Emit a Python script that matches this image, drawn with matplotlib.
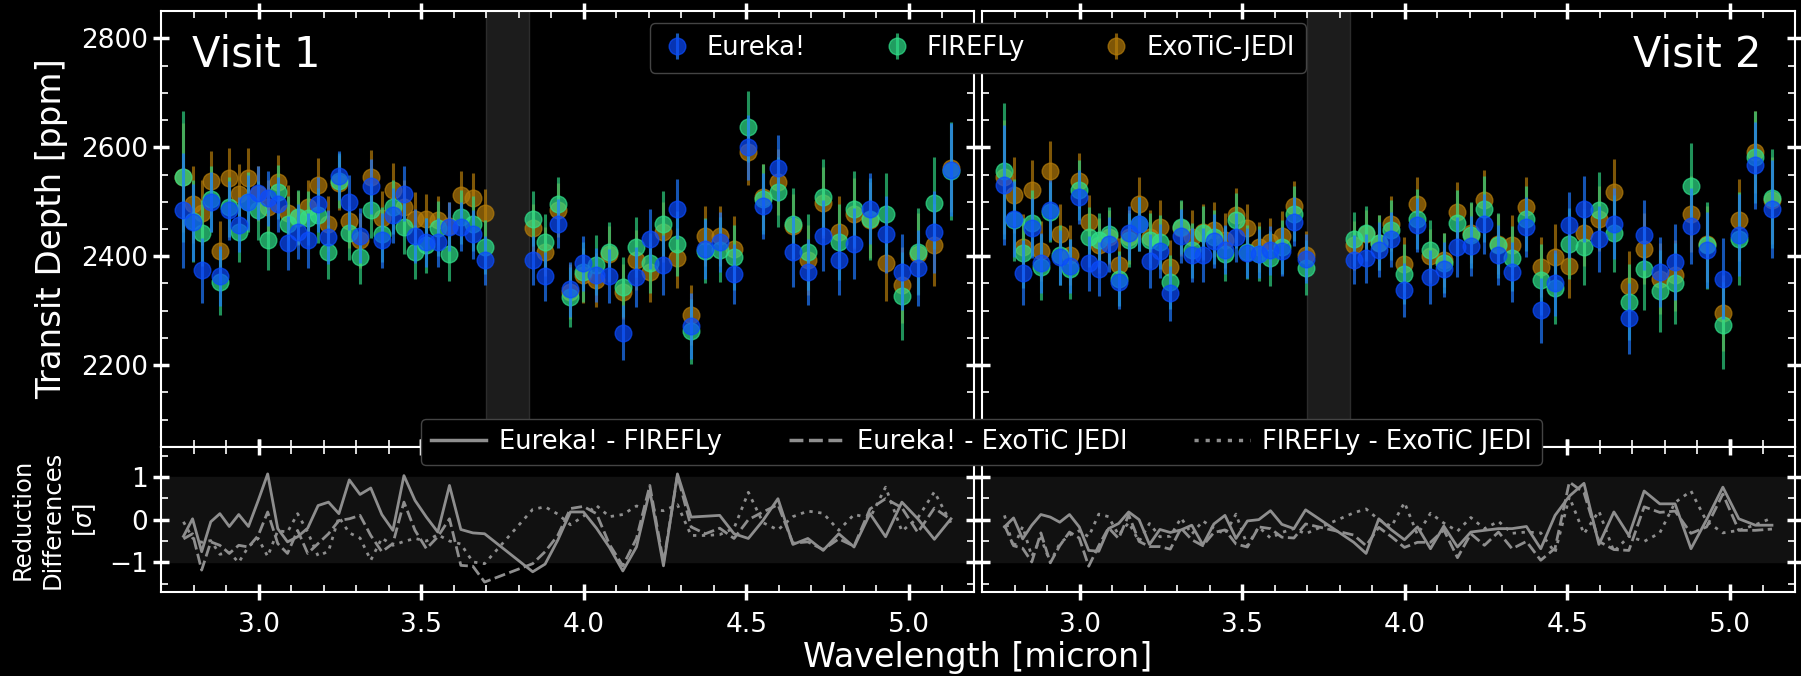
import numpy as np
import matplotlib.pyplot as plt
from matplotlib.ticker import MultipleLocator
from matplotlib.lines import Line2D

# wavelength bin centres (NRS1 then NRS2), micron
wl_nrs1 = [2.769, 2.797, 2.825, 2.853, 2.881, 2.910, 2.939, 2.969, 2.999, 3.028,
           3.059, 3.089, 3.120, 3.151, 3.183, 3.215, 3.247, 3.279, 3.312, 3.345,
           3.379, 3.413, 3.447, 3.481, 3.516, 3.551, 3.587, 3.622, 3.659, 3.695]
wl_nrs2 = [3.843, 3.881, 3.920, 3.959, 3.999, 4.039, 4.079, 4.120, 4.162, 4.203,
           4.245, 4.288, 4.330, 4.374, 4.418, 4.462, 4.506, 4.551, 4.597, 4.643,
           4.689, 4.736, 4.784, 4.831, 4.880, 4.928, 4.978, 5.027, 5.078, 5.129]
wavelength = np.array(wl_nrs1 + wl_nrs2)

# transit depths [ppm]
eureka_v1 = [2484, 2462, 2374, 2499, 2364, 2484, 2458, 2499, 2516, 2506, 2495, 2424, 2445, 2429, 2495,
             2435, 2548, 2499, 2438, 2528, 2429, 2475, 2515, 2437, 2426, 2426, 2454, 2454, 2440, 2393,
             2393, 2363, 2460, 2339, 2387, 2366, 2364, 2260, 2362, 2432, 2384, 2487, 2272, 2414, 2426,
             2368, 2600, 2492, 2562, 2408, 2371, 2438, 2394, 2423, 2487, 2440, 2371, 2379, 2445, 2559]
firefly_v1 = [2546, 2465, 2443, 2505, 2353, 2490, 2445, 2500, 2484, 2430, 2518, 2460, 2472, 2470, 2475,
              2408, 2539, 2443, 2399, 2484, 2440, 2490, 2454, 2408, 2420, 2451, 2405, 2472, 2460, 2417,
              2469, 2427, 2495, 2326, 2371, 2384, 2408, 2344, 2417, 2388, 2460, 2423, 2262, 2410, 2412,
              2398, 2638, 2505, 2518, 2460, 2408, 2509, 2426, 2487, 2469, 2478, 2327, 2408, 2498, 2556]
jedi_v1 = [2545, 2495, 2480, 2539, 2410, 2544, 2515, 2544, 2515, 2490, 2536, 2480, 2470, 2490, 2530,
           2460, 2535, 2465, 2429, 2545, 2470, 2521, 2490, 2468, 2469, 2466, 2455, 2512, 2507, 2479,
           2451, 2408, 2485, 2335, 2365, 2356, 2405, 2335, 2393, 2371, 2445, 2396, 2292, 2438, 2438,
           2414, 2591, 2509, 2536, 2455, 2393, 2498, 2445, 2478, 2466, 2388, 2347, 2405, 2420, 2562]

eureka_v2 = [2530, 2469, 2370, 2452, 2388, 2485, 2398, 2382, 2509, 2387, 2377, 2422, 2353, 2443, 2459,
             2391, 2410, 2332, 2437, 2402, 2402, 2428, 2412, 2435, 2406, 2405, 2411, 2409, 2463, 2395,
             2394, 2396, 2412, 2431, 2338, 2457, 2362, 2376, 2417, 2418, 2460, 2402, 2371, 2454, 2301,
             2351, 2457, 2487, 2432, 2460, 2286, 2439, 2371, 2390, 2455, 2411, 2359, 2439, 2567, 2487]
firefly_v2 = [2557, 2466, 2406, 2461, 2380, 2481, 2402, 2377, 2521, 2435, 2429, 2440, 2359, 2430, 2459,
              2429, 2426, 2353, 2454, 2411, 2443, 2435, 2405, 2466, 2408, 2405, 2396, 2417, 2478, 2379,
              2432, 2442, 2425, 2448, 2367, 2469, 2411, 2387, 2461, 2439, 2487, 2420, 2396, 2469, 2357,
              2341, 2423, 2417, 2484, 2442, 2316, 2376, 2336, 2350, 2528, 2420, 2273, 2432, 2582, 2506]
jedi_v2 = [2545, 2512, 2417, 2521, 2410, 2556, 2441, 2402, 2539, 2463, 2420, 2435, 2384, 2435, 2495,
           2435, 2454, 2380, 2451, 2435, 2445, 2449, 2429, 2475, 2451, 2417, 2426, 2438, 2493, 2402,
           2420, 2440, 2425, 2460, 2385, 2495, 2400, 2393, 2481, 2442, 2503, 2423, 2420, 2491, 2380,
           2399, 2383, 2442, 2469, 2518, 2345, 2414, 2359, 2365, 2478, 2423, 2296, 2467, 2591, 2503]

# 1-sigma uncertainties [ppm]
err_eureka_v1 = [105, 70, 60, 55, 55, 55, 50, 50, 50, 50, 50, 50, 50, 50, 50, 50, 45, 50, 50, 50,
                 50, 50, 50, 50, 45, 45, 45, 45, 45, 45, 45, 45, 45, 50, 50, 50, 50, 50, 55, 55,
                 55, 55, 60, 55, 55, 55, 60, 60, 60, 65, 60, 65, 65, 65, 65, 70, 70, 70, 75, 85]
err_firefly_v1 = [120, 75, 60, 60, 60, 55, 55, 55, 55, 55, 50, 50, 50, 50, 50, 50, 50, 50, 50, 50,
                  50, 50, 50, 50, 50, 50, 50, 50, 50, 50, 50, 50, 50, 55, 55, 55, 55, 55, 55, 55,
                  60, 60, 60, 60, 60, 60, 65, 65, 65, 65, 70, 70, 70, 70, 75, 75, 80, 80, 85, 90]
err_jedi_v1 = [100, 70, 60, 55, 55, 55, 55, 55, 50, 50, 50, 50, 50, 50, 50, 50, 50, 50, 50, 50,
               50, 50, 50, 50, 45, 45, 45, 45, 45, 45, 45, 45, 50, 50, 50, 50, 50, 50, 55, 55,
               55, 55, 55, 55, 55, 60, 60, 60, 60, 60, 65, 65, 65, 65, 70, 70, 70, 75, 75, 80]
err_eureka_v2 = [110, 70, 60, 55, 55, 55, 50, 50, 50, 50, 50, 50, 50, 50, 50, 50, 50, 50, 50, 50,
                 50, 50, 45, 45, 45, 45, 45, 45, 45, 45, 45, 45, 50, 50, 50, 50, 50, 50, 55, 55,
                 55, 55, 55, 55, 60, 60, 60, 60, 60, 65, 65, 65, 65, 70, 70, 70, 75, 75, 80, 90]
err_firefly_v2 = [125, 75, 65, 60, 60, 55, 55, 55, 55, 55, 50, 50, 50, 50, 50, 50, 50, 50, 50, 50,
                  50, 50, 50, 50, 50, 50, 50, 50, 50, 50, 50, 50, 50, 55, 55, 55, 55, 55, 60, 60,
                  60, 60, 60, 60, 65, 65, 65, 70, 70, 70, 70, 75, 75, 75, 80, 80, 80, 85, 85, 90]
err_jedi_v2 = [105, 70, 60, 55, 55, 55, 55, 55, 50, 50, 50, 50, 50, 50, 50, 50, 50, 50, 50, 50,
               50, 50, 50, 50, 45, 45, 45, 45, 45, 45, 45, 45, 50, 50, 50, 50, 50, 50, 55, 55,
               55, 55, 55, 55, 55, 60, 60, 60, 60, 60, 65, 65, 65, 65, 70, 70, 70, 75, 75, 80]

# reduction differences [sigma]
diff_ef_v1 = [-0.39, 0.02, -0.75, -0.05, 0.14, -0.16, 0.12, -0.16, 0.45, 1.07, -0.21, -0.52, -0.40, -0.20, 0.33,
              0.41, 0.14, 0.93, 0.59, 0.74, 0.12, -0.25, 1.03, 0.45, 0.06, -0.29, 0.80, -0.23, -0.31, -0.33,
              -1.22, -1.04, -0.48, 0.18, 0.18, -0.20, -0.65, -1.20, -0.64, 0.68, -1.08, 1.07, 0.06, 0.08, 0.10,
              -0.33, -0.44, -0.02, 0.49, -0.58, -0.44, -0.72, -0.33, -0.64, 0.14, -0.40, 0.41, 0.02, -0.46, 0.02]
diff_ej_v1 = [-0.45, -0.33, -1.18, -0.52, -0.60, -0.79, -0.60, -0.64, -0.37, 0.18, -0.56, -0.79, -0.25, -0.79, -0.56,
              -0.33, -0.02, 0.02, 0.10, -0.37, -0.75, -0.56, 0.41, -0.25, -0.68, -0.40, 0.02, -1.07, -1.09, -1.46,
              -1.03, -0.75, -0.37, 0.26, 0.31, 0.14, -0.58, -1.08, -0.44, 0.80, -1.00, 1.03, -0.17, -0.33, -0.20,
              -0.44, 0.00, 0.18, 0.35, -0.55, -0.52, -0.70, -0.45, -0.62, 0.25, 0.49, 0.28, -0.30, 0.27, 0.00]
diff_fj_v1 = [-0.05, -0.43, -0.53, -0.49, -0.81, -0.77, -1.00, -0.63, -0.44, -0.86, -0.26, -0.29, 0.14, -0.29, -0.85,
              -0.74, 0.06, -0.31, -0.43, -0.95, -0.43, -0.60, -0.51, -0.44, -0.50, -0.35, -0.50, -0.57, -0.99, -1.03,
              0.24, 0.30, 0.13, -0.12, 0.08, 0.33, 0.07, 0.12, 0.32, 0.23, 0.21, 0.35, -0.37, -0.37, -0.35,
              -0.20, 0.64, -0.07, -0.24, 0.07, 0.20, 0.15, -0.25, 0.12, 0.04, 0.76, -0.27, 0.04, 0.65, -0.08]

diff_ef_v2 = [-0.17, 0.04, -0.45, -0.13, 0.12, 0.06, -0.06, 0.12, -0.17, -0.72, -0.74, -0.21, -0.09, 0.18, 0.00,
              -0.58, -0.23, -0.30, -0.24, -0.13, -0.59, -0.10, 0.10, -0.44, -0.03, 0.00, 0.21, -0.11, -0.21, 0.23,
              -0.53, -0.79, 0.02, -0.24, -0.47, -0.17, -0.68, -0.15, -0.64, -0.29, -0.25, -0.21, -0.21, -0.16, -0.68,
              0.10, 0.55, 0.85, -0.58, 0.18, -0.37, 0.67, 0.37, 0.37, -0.68, 0.00, 0.76, 0.02, -0.13, -0.13]
diff_ej_v2 = [-0.13, -0.61, -0.67, -0.99, -0.31, -1.01, -0.61, -0.29, -0.43, -1.09, -0.61, -0.19, -0.44, 0.11, -0.51,
              -0.63, -0.63, -0.69, -0.20, -0.47, -0.61, -0.30, -0.24, -0.57, -0.64, -0.17, -0.21, -0.41, -0.43, -0.10,
              -0.36, -0.61, -0.18, -0.40, -0.65, -0.53, -0.53, -0.24, -0.89, -0.33, -0.60, -0.29, -0.68, -0.51, -0.95,
              -0.67, 0.88, 0.63, -0.51, -0.70, -0.72, 0.30, 0.17, 0.20, -0.32, -0.17, 0.60, -0.25, -0.25, -0.22]
diff_fj_v2 = [0.10, -0.66, -0.16, -0.86, -0.43, -1.00, -0.56, -0.36, -0.26, -0.40, 0.13, 0.07, -0.36, -0.07, -0.51,
              -0.09, -0.40, -0.39, 0.04, -0.34, -0.03, -0.20, -0.34, 0.13, -0.61, -0.17, -0.43, -0.30, -0.21, -0.33,
              0.16, 0.25, 0.00, -0.16, 0.40, -0.35, 0.15, -0.08, -0.27, 0.05, -0.21, -0.04, -0.32, -0.29, -0.31,
              -0.77, 0.53, -0.33, 0.20, -0.75, -0.39, -0.51, -0.31, 0.40, 0.67, -0.04, -0.31, -0.25, -0.12, 0.04]

reductions = ["Eureka!", "FIREFLy", "ExoTiC-JEDI"]
diff_labels = ["Eureka! - FIREFLy", "Eureka! - ExoTiC JEDI", "FIREFLy - ExoTiC JEDI"]
visit_names = ["Visit 1", "Visit 2"]

depths = [[eureka_v1, firefly_v1, jedi_v1], [eureka_v2, firefly_v2, jedi_v2]]
errors = [[err_eureka_v1, err_firefly_v1, err_jedi_v1], [err_eureka_v2, err_firefly_v2, err_jedi_v2]]
diffs = [[diff_ef_v1, diff_ej_v1, diff_fj_v1], [diff_ef_v2, diff_ej_v2, diff_fj_v2]]

colors = ["#0a4bff", "#2fe08a", "#b47c0a"]
ecolors = ["#1f78ff", "#2fd080", "#b47c0a"]
zorders = [4, 3, 2]
line_styles = ["-", (0, (4, 1.6)), (0, (1.2, 2.0))]
gap = (3.70, 3.83)

plt.rcParams["font.family"] = "DejaVu Sans"

fig = plt.figure(figsize=(18.01, 6.76), dpi=100, facecolor="black")
gs = fig.add_gridspec(2, 2, height_ratios=[3, 1], hspace=0, wspace=0.0098,
                      left=0.0894, right=0.9967, top=0.9837, bottom=0.1238)


def style_axis(ax):
    ax.set_facecolor("black")
    for sp in ax.spines.values():
        sp.set_color("white")
        sp.set_linewidth(1.5)
    ax.tick_params(which="both", colors="white", top=True, right=True, labelsize=19)
    ax.tick_params(which="major", direction="inout", length=12, width=2.5)
    ax.tick_params(which="minor", direction="in", length=5, width=1.2)
    ax.xaxis.set_major_locator(MultipleLocator(0.5))
    ax.xaxis.set_minor_locator(MultipleLocator(0.1))


handles = []
for col in range(2):
    ax = fig.add_subplot(gs[0, col])
    axd = fig.add_subplot(gs[1, col], sharex=ax)
    style_axis(ax)
    style_axis(axd)

    ax.axvspan(gap[0], gap[1], facecolor="#1c1c1c", edgecolor="#2c2c2c", lw=1, zorder=0)
    for k in range(3):
        eb = ax.errorbar(wavelength, depths[col][k], yerr=errors[col][k], fmt="o", ms=12,
                         color=colors[k], ecolor=ecolors[k], elinewidth=2.2, capsize=0,
                         alpha=0.7, zorder=zorders[k], label=reductions[k])
        if col == 0:
            handles.append(eb)

    axd.axhspan(-1, 1, color="#111111", zorder=0)
    for k in range(3):
        axd.plot(wavelength, diffs[col][k], color="#8e8e8e", lw=2.0, ls=line_styles[k], zorder=2)

    ax.set_xlim(2.70, 5.20)
    ax.set_ylim(2050, 2850)
    ax.yaxis.set_major_locator(MultipleLocator(200))
    ax.yaxis.set_minor_locator(MultipleLocator(50))
    axd.set_ylim(-1.7, 1.7)
    axd.yaxis.set_major_locator(MultipleLocator(1))
    axd.yaxis.set_minor_locator(MultipleLocator(0.5))
    ax.tick_params(labelbottom=False)
    axd.tick_params(axis="x", pad=8)

    if col == 0:
        ax.set_ylabel("Transit Depth [ppm]", fontsize=24.5, color="white", va="center")
        ax.yaxis.set_label_coords(-0.134, 0.5)
        axd.set_ylabel("Reduction\nDifferences\n[$\\sigma$]", fontsize=17.5, color="white",
                       linespacing=1.3, va="center")
        axd.yaxis.set_label_coords(-0.131, 0.5)
        ax.text(0.038, 0.90, visit_names[col], transform=ax.transAxes, fontsize=30,
                color="white", ha="left", va="center")
    else:
        ax.tick_params(labelleft=False)
        axd.tick_params(labelleft=False)
        ax.text(0.958, 0.90, visit_names[col], transform=ax.transAxes, fontsize=30,
                color="white", ha="right", va="center")

fig.text(0.543, 0.028, "Wavelength [micron]", ha="center", va="center", fontsize=24, color="white")

leg1 = fig.legend(handles, reductions, loc="center", bbox_to_anchor=(0.543, 0.929), ncol=3,
                  fontsize=18.5, facecolor="black", edgecolor="#444444", labelcolor="white",
                  framealpha=1, handlelength=1.2, handletextpad=0.56, columnspacing=2.95,
                  borderpad=0.45)

line_handles = [Line2D([], [], color="#8e8e8e", lw=2.5, ls=s) for s in line_styles]
leg2 = fig.legend(line_handles, diff_labels, loc="center", bbox_to_anchor=(0.545, 0.346), ncol=3,
                  fontsize=18.5, facecolor="black", edgecolor="#444444", labelcolor="white",
                  framealpha=1, handlelength=2.15, handletextpad=0.5, columnspacing=2.6,
                  borderpad=0.4)

fig.savefig("out.png", dpi=100, facecolor="black")
